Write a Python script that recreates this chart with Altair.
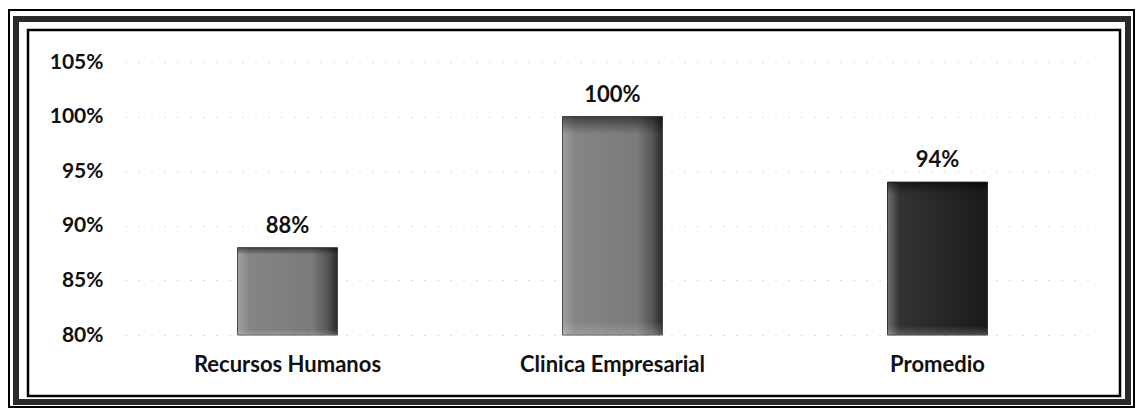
import altair as alt
import pandas as pd

categories = ["Recursos Humanos", "Clinica Empresarial", "Promedio"]
values = [0.88, 1.00, 0.94]
tones = ["gray", "gray", "dark"]
y_ticks = [0.80, 0.85, 0.90, 0.95, 1.00, 1.05]

df = pd.DataFrame({"cat": categories, "val": values, "tone": tones})

FONT = "Lato"

gray_grad = {
    "gradient": "linear", "x1": 0, "x2": 1, "y1": 0, "y2": 0,
    "stops": [
        {"offset": 0.0, "color": "#a0a0a0"},
        {"offset": 0.12, "color": "#858585"},
        {"offset": 0.75, "color": "#7a7a7a"},
        {"offset": 0.9, "color": "#555555"},
        {"offset": 1.0, "color": "#2a2a2a"},
    ],
}
dark_grad = {
    "gradient": "linear", "x1": 0, "x2": 1, "y1": 0, "y2": 0,
    "stops": [
        {"offset": 0.0, "color": "#707070"},
        {"offset": 0.12, "color": "#333333"},
        {"offset": 1.0, "color": "#1a1a1a"},
    ],
}
top_shade = {
    "gradient": "linear", "x1": 0, "x2": 0, "y1": 0, "y2": 1,
    "stops": [
        {"offset": 0.0, "color": "rgba(0,0,0,0.5)"},
        {"offset": 0.08, "color": "rgba(0,0,0,0.0)"},
        {"offset": 0.94, "color": "rgba(255,255,255,0.0)"},
        {"offset": 1.0, "color": "rgba(255,255,255,0.2)"},
    ],
}

x_enc = alt.X(
    "cat:N", sort=categories, title=None,
    scale=alt.Scale(paddingInner=0.0, paddingOuter=0.0),
    axis=alt.Axis(labelAngle=0, labelFont=FONT, labelFontSize=22, labelFontWeight="bold",
                  labelColor="#111111", labelPadding=19, labelLimit=0,
                  ticks=False, domain=False),
)
y_enc = alt.Y(
    "val:Q", title=None,
    scale=alt.Scale(domain=[0.80, 1.05], nice=False, clamp=True),
    axis=alt.Axis(values=y_ticks, format=".0%", labelFont=FONT, labelFontSize=21,
                  labelFontWeight="bold", labelColor="#111111", labelPadding=22,
                  ticks=False, domain=False, grid=True, gridColor="#aaaaaa",
                  gridDash=[1, 12], gridWidth=1, gridOpacity=0.8),
)

base = alt.Chart(df)

bars_gray = base.transform_filter(alt.datum.tone == "gray").mark_bar(
    size=100, color=gray_grad, stroke="#4a4a4a", strokeWidth=1
).encode(x=x_enc, y=y_enc)

bars_dark = base.transform_filter(alt.datum.tone == "dark").mark_bar(
    size=100, color=dark_grad, stroke="#333333", strokeWidth=1
).encode(x=x_enc, y=y_enc)

bars_shade = base.mark_bar(size=100, color=top_shade).encode(
    x=alt.X("cat:N", sort=categories), y="val:Q")

labels = base.mark_text(
    font=FONT, fontSize=22, fontWeight="bold", color="#111111",
    baseline="bottom", dy=-10
).encode(x=alt.X("cat:N", sort=categories), y="val:Q", text=alt.Text("val:Q", format=".0%"))

frame_data = alt.Data(values=[{"k": 1}])
outer = alt.Chart(frame_data).mark_rect(fill=None, stroke="#000000", strokeWidth=2).encode(
    x=alt.value(-116), x2=alt.value(1009), y=alt.value(-52), y2=alt.value(345))
band = alt.Chart(frame_data).mark_rect(fill=None, stroke="#2a2a2a", strokeWidth=6).encode(
    x=alt.value(-109), x2=alt.value(1003), y=alt.value(-43), y2=alt.value(340))
inner = alt.Chart(frame_data).mark_rect(fill=None, stroke="#000000", strokeWidth=2.5).encode(
    x=alt.value(-97), x2=alt.value(995), y=alt.value(-32), y2=alt.value(334))

chart = alt.layer(outer, band, inner, bars_gray, bars_dark, bars_shade, labels).properties(
    width=975, height=273,
    autosize=alt.AutoSizeParams(type="none"),
    padding={"left": 117, "top": 54, "right": 35, "bottom": 73},
    background="#ffffff",
).configure_view(stroke=None)

chart.save("out.html", embed_options={"renderer": "svg", "actions": False})
